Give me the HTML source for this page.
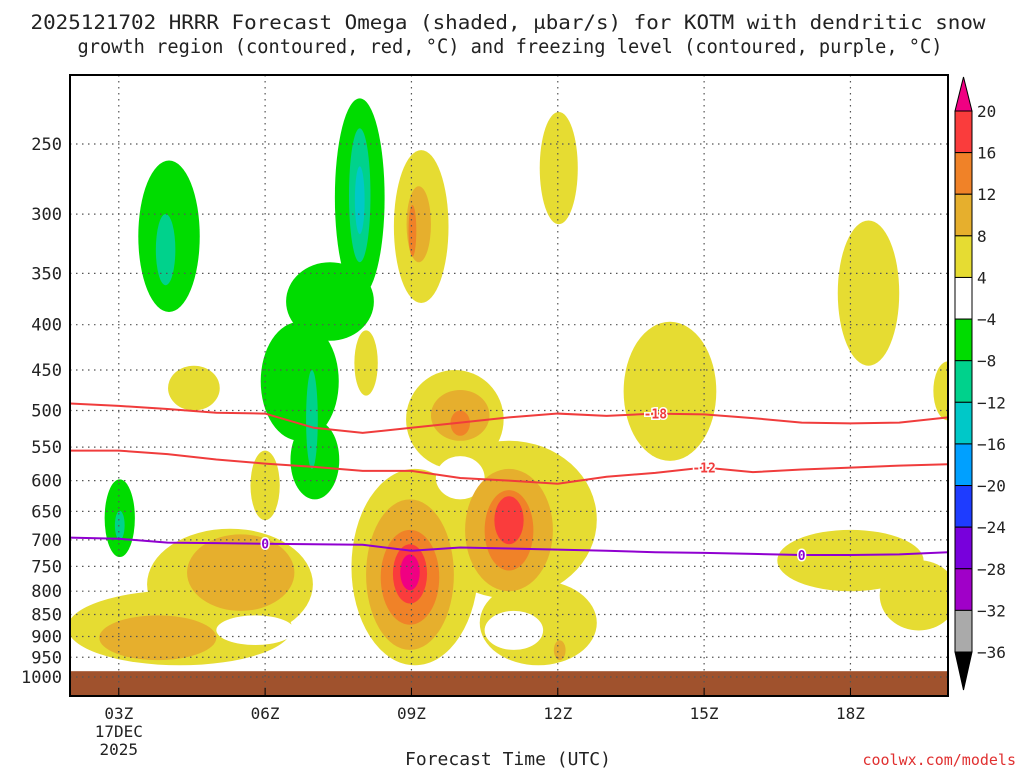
<!DOCTYPE html>
<html><head><meta charset="utf-8"><style>
body{margin:0;background:#fff;}
svg text{font-family:"DejaVu Sans Mono","Liberation Mono",monospace;}
</style></head><body>
<svg id="chart" width="1024" height="768" viewBox="0 0 1024 768" xmlns="http://www.w3.org/2000/svg">
<rect width="1024" height="768" fill="#fff"/>
<text x="508" y="29" font-size="19.5" text-anchor="middle" fill="#222" textLength="955" lengthAdjust="spacingAndGlyphs">2025121702 HRRR Forecast Omega (shaded, μbar/s) for KOTM with dendritic snow</text>
<text x="510" y="53" font-size="19.5" text-anchor="middle" fill="#222" textLength="865" lengthAdjust="spacingAndGlyphs">growth region (contoured, red, °C) and freezing level (contoured, purple, °C)</text>
<g id="plot"></g>
<text x="508" y="765" font-size="18" text-anchor="middle" fill="#222">Forecast Time (UTC)</text>
<text x="1016" y="765" font-size="15" text-anchor="end" fill="#e03030">coolwx.com/models</text>
</svg>
<script>
const NS="http://www.w3.org/2000/svg";
// data
const timeTicks=[3,6,9,12,15,18];
const timeLabels=["03Z","06Z","09Z","12Z","15Z","18Z"];
const presTicks=[250,300,350,400,450,500,550,600,650,700,750,800,850,900,950,1000];
const cbLevels=[20,16,12,8,4,-4,-8,-12,-16,-20,-24,-28,-32,-36];
const cbColors=["#fa3c3c","#f08228","#e6af2d","#e6dc32","#ffffff","#00dc00","#00d28c","#00c8c8","#00a0ff","#1e3cff","#7800dc","#a000c8","#aaaaaa"];
const levelColors={g:"#00dc00",t:"#00d28c",c:"#00c8c8",y:"#e6dc32",w:"#ffffff",lo:"#e6af2d",o:"#f08228",r:"#fa3c3c",m:"#f00082"};
// blobs: time center, half-width (h), top pressure, bottom pressure, level
const blobTime=[4.03,3.96,7.94,7.33,6.71,7.02,7.94,7.94,6.96,3.02,3.02,
 9.2,9.15,9.02,12.02,8.07,4.54,14.3,18.37,20,
 9.89,11.0,9.07,5.28,4.25,11.6,6.0,18.0,19.4,
 10.0,11.1,5.8,
 8.97,11.0,5.5,3.8,10.0,12.04,
 8.97,11.0,10.0,8.97,11.0,8.97];
const blobHalf=[.63,.2,.51,.9,.8,.5,.22,.1,.12,.31,.1,
 .56,.25,.08,.39,.24,.53,.95,.63,.3,
 1.0,1.8,1.3,1.7,2.3,1.2,.3,1.5,.8,
 .5,.6,.8,
 .9,.9,1.1,1.2,.6,.12,
 .6,.5,.2,.35,.3,.2];
const blobTop=[261,300,222,340,397,513,240,265,450,598,649,
 254,279,293,230,406,445,397,305,440,
 450,541,582,680,798,778,555,682,738,
 563,842,852,
 630,582,690,852,474,909,
 682,615,500,708,625,727];
const blobBot=[387,361,372,417,541,630,340,316,582,732,700,
 378,340,335,308,481,500,570,445,513,
 582,815,970,908,970,970,665,800,886,
 630,932,920,
 932,800,842,957,541,957,
 873,758,534,826,708,798];
const blobLevel=["g","t","g","g","g","g","t","c","t","g","t",
 "y","lo","o","y","y","y","y","y","y",
 "y","y","y","y","y","y","y","y","y",
 "w","w","w",
 "lo","lo","lo","lo","lo","lo",
 "o","o","o","r","r","m"];
const lineTimes=[2,3,4,5,6,7,8,9,10,11,12,13,14,15,16,17,18,19,20];
const tm18=[491,494,498,503,504,523,530,523,516,509,504,507,504,505,510,516,517,516,509];
const tm12=[555,555,560,568,574,579,585,585,596,600,605,594,588,580,587,583,580,577,575];
const t0=[696,698,705,706,707,708,709,720,714,716,718,720,723,724,726,728,728,727,723];
// axes
const X0=70,X1=948,Y0=75,Y1=696;
const xs=t=>X0+(t-2)*(X1-X0)/18;
const ys=p=>144+(Math.log(p)-Math.log(250))/Math.log(4)*533;
const g=document.getElementById('plot');
function mk(tag,attrs,parent){const e=document.createElementNS(NS,tag);for(const k in attrs)e.setAttribute(k,attrs[k]);(parent||g).appendChild(e);return e;}
const clip=mk('clipPath',{id:'pc'});mk('rect',{x:X0,y:Y0,width:X1-X0,height:Y1-Y0},clip);
const sh=mk('g',{'clip-path':'url(#pc)'});


for(let i=0;i<blobTime.length;i++){
 const yt=ys(blobTop[i]),yb=ys(blobBot[i]);
 const e=mk('ellipse',{cx:xs(blobTime[i]),cy:(yt+yb)/2,rx:blobHalf[i]*(X1-X0)/18,ry:(yb-yt)/2,fill:levelColors[blobLevel[i]]},sh);
 
 
}
const gr=mk('rect',{x:X0,y:ys(985),width:X1-X0,height:Y1-ys(985),fill:'#a0522d'});


// grid
timeTicks.forEach((t,i)=>{
 const l=mk('line',{x1:xs(t),x2:xs(t),y1:Y0,y2:Y1,stroke:'#555','stroke-dasharray':'1.5,4.5','stroke-width':1.2});
 
 
 mk('line',{x1:xs(t),x2:xs(t),y1:Y1,y2:Y1-8,stroke:'#000'});
 const tx=mk('text',{x:xs(t),y:719,'font-size':16,'text-anchor':'middle',fill:'#222'});tx.textContent=timeLabels[i];
 
 
});
presTicks.forEach(p=>{
 const l=mk('line',{x1:X0,x2:X1,y1:ys(p),y2:ys(p),stroke:'#555','stroke-dasharray':'1.5,4.5','stroke-width':1.2});
 
 
 const tx=mk('text',{x:62,y:ys(p)+6,'font-size':17,'text-anchor':'end',fill:'#222'});tx.textContent=p;
 
 
});
const d1=mk('text',{x:xs(3),y:737,'font-size':16,'text-anchor':'middle',fill:'#222'});d1.textContent="17DEC";


const d2=mk('text',{x:xs(3),y:755,'font-size':16,'text-anchor':'middle',fill:'#222'});d2.textContent="2025";


// contour lines
function line(arr,color,name,labels){
 const pts=lineTimes.map((t,i)=>xs(t)+','+ys(arr[i])).join(' ');
 const pl=mk('polyline',{points:pts,fill:'none',stroke:color,'stroke-width':2});
 
 
 labels.forEach(([idx,txt])=>{
  const x=xs(lineTimes[idx]),y=ys(arr[idx]);
  const tx=mk('text',{x:x,y:y+5,'font-size':13,'font-weight':'bold','text-anchor':'middle',fill:color,stroke:'#fff','stroke-width':3,'paint-order':'stroke'});tx.textContent=txt;
  
  
 });
}
line(tm18,'#f03c3c','minus18-contour',[[12,'-18']]);
line(tm12,'#f03c3c','minus12-contour',[[13,'-12']]);
line(t0,'#9000d0','freezing-level-contour',[[4,'0'],[15,'0']]);
const fr=mk('rect',{x:X0,y:Y0,width:X1-X0,height:Y1-Y0,fill:'none',stroke:'#000','stroke-width':2});


// colorbar
const CX=955,CW=17,CT=111,CB=652;
const step=(CB-CT)/(cbColors.length);
const cb=mk('g',{});


mk('polygon',{points:`${CX},${CT} ${CX+CW},${CT} ${CX+CW/2},77`,fill:'#f00082',stroke:'#000'},cb);
mk('polygon',{points:`${CX},${CB} ${CX+CW},${CB} ${CX+CW/2},690`,fill:'#000',stroke:'#000'},cb);
cbColors.forEach((c,i)=>{mk('rect',{x:CX,y:CT+i*step,width:CW,height:step,fill:c,stroke:'#000','stroke-width':1},cb);});
cbLevels.forEach((v,i)=>{
 const tx=mk('text',{x:977,y:CT+i*step+6,'font-size':16,fill:'#222'},cb);
 tx.textContent=v<0?'\u2212'+Math.abs(v):String(v);
 
 
});
</script>
</body></html>
